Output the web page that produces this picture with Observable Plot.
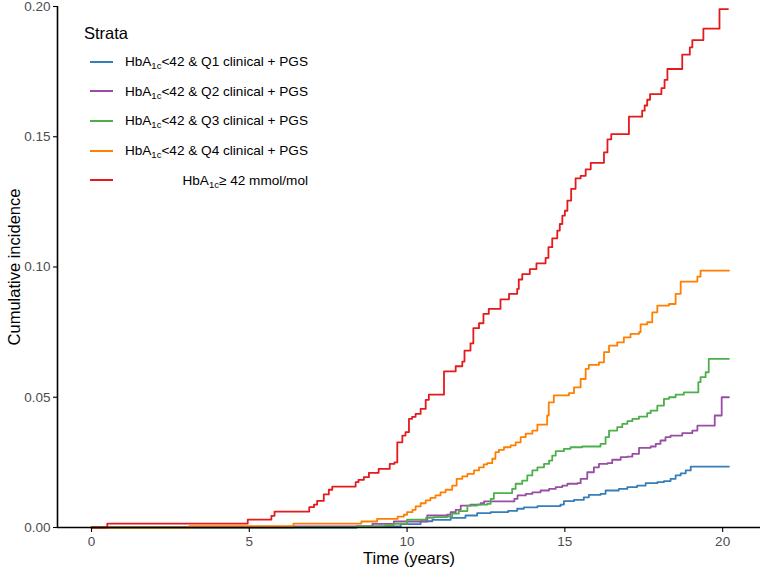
<!DOCTYPE html>
<html>
<head>
<meta charset="utf-8">
<script src="https://cdn.jsdelivr.net/npm/d3@7"></script>
<script src="https://cdn.jsdelivr.net/npm/@observablehq/plot@0.6"></script>
<style>
  html, body { margin: 0; padding: 0; background: #fff; }
  #wrap { position: relative; width: 761px; height: 571px; font-family: "Liberation Sans", Arial, sans-serif; }
  #legend { position: absolute; left: 84px; top: 22px; color: #000; }
  #legend .title { font-size: 16.5px; height: 25px; line-height: 22px; }
  #legend .row { display: flex; align-items: center; height: 29.6px; }
  #legend .key { width: 23px; height: 2px; margin-left: 6px; }
  #legend .lab { width: 184px; margin-left: 11px; text-align: right; font-size: 13.6px; white-space: nowrap; }
  #legend sub { font-size: 9.5px; vertical-align: -3px; line-height: 0; }
</style>
</head>
<body>
<div id="wrap"><div id="chart"></div><div id="legend"></div></div>
<script>
// ---- data ----
const strata = [
  "HbA1c<42 & Q1 clinical + PGS",
  "HbA1c<42 & Q2 clinical + PGS",
  "HbA1c<42 & Q3 clinical + PGS",
  "HbA1c<42 & Q4 clinical + PGS",
  "HbA1c\u2265 42 mmol/mol"
];
const colors = ["#377EB8", "#984EA3", "#4DAF4A", "#FF7F00", "#E41A1C"];

const q1Time = [0, 8.4, 9.8, 10.43, 10.8, 11.38, 11.85, 12.22, 12.65, 13.2, 13.49, 13.7, 14.13, 14.86, 14.97, 15.29, 15.6, 15.76, 16.13, 16.29, 16.71, 16.98, 17.29, 17.56, 17.93, 18.14, 18.35, 18.51, 18.67, 18.83, 18.99, 20.2];
const q1Inc  = [0, 0.0004, 0.0013, 0.0024, 0.0029, 0.0037, 0.0046, 0.0055, 0.0059, 0.0064, 0.0072, 0.0077, 0.0082, 0.0088, 0.0101, 0.0106, 0.0116, 0.0125, 0.0129, 0.0142, 0.0148, 0.0155, 0.0161, 0.017, 0.0174, 0.0178, 0.0187, 0.02, 0.0208, 0.0219, 0.0234, 0.0234];

const q2Time = [0, 6.4, 8.9, 9.58, 10.64, 11.27, 11.38, 11.54, 11.7, 12.01, 12.33, 12.44, 13.4, 13.5, 13.76, 13.97, 14.23, 14.5, 14.71, 14.92, 15.08, 15.4, 15.5, 15.71, 15.92, 16.08, 16.35, 16.5, 16.77, 16.98, 17.14, 17.35, 17.72, 17.88, 18.03, 18.19, 18.35, 18.72, 19.04, 19.2, 19.75, 19.97, 20.2];
const q2Inc  = [0, 0.0004, 0.0014, 0.0023, 0.0046, 0.0049, 0.0059, 0.0068, 0.0084, 0.0088, 0.0093, 0.01, 0.011, 0.0123, 0.0129, 0.0135, 0.0142, 0.0148, 0.0155, 0.0161, 0.0168, 0.017, 0.0187, 0.0212, 0.0231, 0.0244, 0.0247, 0.026, 0.027, 0.0272, 0.0283, 0.0306, 0.0311, 0.0321, 0.0334, 0.0347, 0.0353, 0.0362, 0.0372, 0.0391, 0.043, 0.05, 0.05];

const q3Time = [0, 8.4, 9.3, 9.57, 10.0, 10.6, 10.85, 11.27, 11.43, 11.64, 11.91, 12.22, 12.54, 12.65, 12.75, 13.33, 13.44, 13.65, 13.81, 13.97, 14.13, 14.34, 14.5, 14.6, 14.71, 14.97, 15.18, 15.55, 16.13, 16.29, 16.4, 16.66, 16.82, 16.98, 17.14, 17.35, 17.61, 17.72, 17.93, 18.14, 18.3, 18.51, 18.77, 19.23, 19.3, 19.46, 19.56, 20.2];
const q3Inc  = [0, 0.0004, 0.0008, 0.0014, 0.003, 0.0037, 0.004, 0.0042, 0.0053, 0.0063, 0.0084, 0.0088, 0.0091, 0.011, 0.0132, 0.0148, 0.0168, 0.018, 0.02, 0.0219, 0.0231, 0.0244, 0.0257, 0.0276, 0.0293, 0.0302, 0.0308, 0.0311, 0.0321, 0.0347, 0.0372, 0.0385, 0.0398, 0.0408, 0.0417, 0.0426, 0.0439, 0.0449, 0.0468, 0.0494, 0.05, 0.051, 0.0519, 0.0558, 0.0577, 0.0596, 0.0647, 0.0647];

const q4Time = [0, 3.1, 6.4, 8.55, 9.05, 9.7, 9.9, 10.0, 10.17, 10.27, 10.43, 10.59, 10.74, 10.9, 11.06, 11.22, 11.43, 11.57, 11.75, 11.91, 12.12, 12.28, 12.43, 12.54, 12.7, 12.8, 12.91, 13.07, 13.28, 13.44, 13.6, 13.76, 13.97, 14.13, 14.44, 14.49, 14.65, 15.13, 15.29, 15.5, 15.66, 15.76, 16.08, 16.24, 16.4, 16.66, 16.87, 17.08, 17.35, 17.4, 17.61, 17.77, 17.93, 18.3, 18.51, 18.67, 19.2, 19.3, 20.2];
const q4Inc  = [0, 0.0005, 0.0015, 0.0023, 0.0033, 0.0042, 0.0049, 0.0059, 0.0068, 0.0081, 0.0093, 0.0104, 0.0114, 0.0123, 0.0135, 0.0145, 0.0161, 0.0187, 0.0196, 0.0206, 0.0219, 0.0231, 0.0242, 0.0247, 0.0264, 0.0289, 0.0298, 0.0308, 0.0315, 0.0327, 0.0347, 0.036, 0.0372, 0.0395, 0.043, 0.048, 0.0507, 0.0516, 0.0538, 0.057, 0.0609, 0.0624, 0.0634, 0.0673, 0.0698, 0.0711, 0.073, 0.0743, 0.075, 0.078, 0.0788, 0.0826, 0.0852, 0.0858, 0.0897, 0.0944, 0.0963, 0.0986, 0.0986];

const hbTime = [0, 0.5, 4.95, 5.7, 5.8, 6.9, 7.05, 7.15, 7.36, 7.52, 7.63, 8.37, 8.46, 8.63, 8.79, 9.1, 9.45, 9.6, 9.69, 9.85, 9.95, 10.06, 10.16, 10.27, 10.43, 10.59, 10.69, 11.17, 11.54, 11.75, 11.82, 12.01, 12.1, 12.28, 12.42, 12.59, 12.96, 13.23, 13.49, 13.54, 13.65, 13.89, 14.1, 14.39, 14.48, 14.6, 14.76, 14.84, 14.92, 15.0, 15.08, 15.2, 15.34, 15.5, 15.66, 15.82, 16.24, 16.35, 16.47, 17.03, 17.45, 17.53, 17.61, 17.7, 18.06, 18.16, 18.25, 18.72, 18.96, 19.04, 19.39, 19.9, 20.17];
const hbInc  = [0, 0.0015, 0.003, 0.0045, 0.0061, 0.0078, 0.0088, 0.0102, 0.0127, 0.0145, 0.0157, 0.0174, 0.0183, 0.0193, 0.021, 0.0225, 0.0244, 0.025, 0.0327, 0.0353, 0.0366, 0.0417, 0.0425, 0.0436, 0.0455, 0.049, 0.051, 0.0599, 0.0619, 0.0637, 0.0679, 0.0707, 0.0765, 0.0784, 0.082, 0.0839, 0.0876, 0.0897, 0.0916, 0.0952, 0.0973, 0.0992, 0.1014, 0.1035, 0.1076, 0.111, 0.114, 0.1165, 0.1197, 0.1216, 0.1255, 0.13, 0.134, 0.135, 0.1375, 0.140, 0.144, 0.149, 0.151, 0.1577, 0.16, 0.162, 0.1642, 0.1664, 0.1687, 0.1718, 0.176, 0.1815, 0.1843, 0.1871, 0.1915, 0.199, 0.199];

const xTicks = [0, 5, 10, 15, 20];
const yTicks = [0, 0.05, 0.10, 0.15, 0.20];
const xDomain = [-1.078, 21.2];
const yDomain = [0, 0.2];

// ---- build table ----
const seriesTimes = [q1Time, q2Time, q3Time, q4Time, hbTime];
const seriesInc = [q1Inc, q2Inc, q3Inc, q4Inc, hbInc];
const rows = [];
strata.forEach((s, i) => {
  seriesTimes[i].forEach((t, j) => rows.push({strata: s, t, v: seriesInc[i][j]}));
});

const chart = Plot.plot({
  width: 761,
  height: 571,
  marginLeft: 57,
  marginRight: 1,
  marginTop: 6,
  marginBottom: 44,
  style: {fontFamily: "'Liberation Sans', Arial, sans-serif", fontSize: "13px", background: "#fff"},
  x: {domain: xDomain, label: null},
  y: {domain: yDomain, label: null},
  color: {domain: strata, range: colors},
  marks: [
    Plot.line(rows, {x: "t", y: "v", z: "strata", stroke: "strata", curve: "step-after", strokeWidth: 1.8}),
    Plot.ruleY([yDomain[0]], {stroke: "#000", strokeWidth: 1.6}),
    Plot.ruleX([xDomain[0]], {stroke: "#000", strokeWidth: 1.6}),
    Plot.axisX({ticks: xTicks, tickSize: 5, text: null, stroke: "#000", strokeWidth: 1.1}),
    Plot.axisX({ticks: xTicks, tickSize: 0, tickPadding: 9, fill: "#4d4d4d", fontSize: 13.5, label: null}),
    Plot.axisY({ticks: yTicks, tickSize: 4, text: null, stroke: "#000", strokeWidth: 1.1}),
    Plot.axisY({ticks: yTicks, tickSize: 0, tickPadding: 7, tickFormat: d3.format(".2f"), fill: "#4d4d4d", fontSize: 13.5, label: null}),
    Plot.text(["Time (years)"], {frameAnchor: "bottom", lineAnchor: "middle", dy: 31, fontSize: 16.5, fill: "#000"}),
    Plot.text(["Cumulative incidence"], {frameAnchor: "left", lineAnchor: "middle", textAnchor: "middle", rotate: -90, dx: -43, fontSize: 16.5, fill: "#000"})
  ]
});
document.getElementById("chart").appendChild(chart);

// ---- legend ----
const legend = document.getElementById("legend");
const title = document.createElement("div");
title.className = "title";
title.textContent = "Strata";
legend.appendChild(title);
strata.forEach((s, i) => {
  const row = document.createElement("div");
  row.className = "row";
  const key = document.createElement("div");
  key.className = "key";
  key.style.background = colors[i];
  const lab = document.createElement("div");
  lab.className = "lab";
  const parts = s.split("A1c");
  lab.appendChild(document.createTextNode(parts[0] + "A"));
  const sub = document.createElement("sub");
  sub.textContent = "1c";
  lab.appendChild(sub);
  lab.appendChild(document.createTextNode(parts[1]));
  row.appendChild(key);
  row.appendChild(lab);
  legend.appendChild(row);
});
</script>
</body>
</html>
